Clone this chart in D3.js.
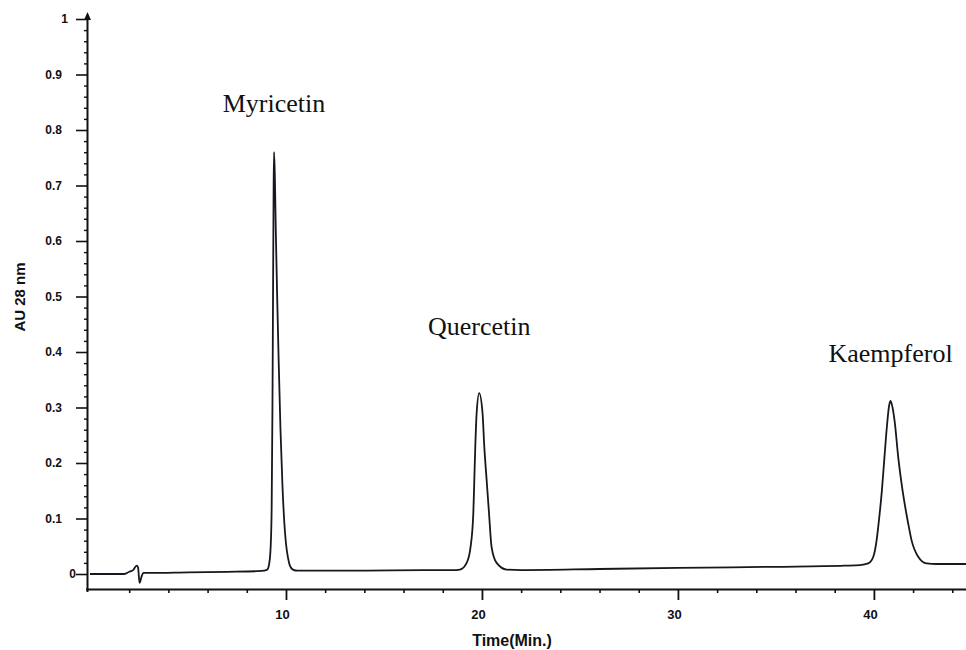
<!DOCTYPE html>
<html>
<head>
<meta charset="utf-8">
<script src="https://cdn.jsdelivr.net/npm/d3@7"></script>
<style>
  html, body { margin: 0; padding: 0; background: #fff; }
  svg { display: block; }
  .axis text { font-family: "Liberation Sans", Arial, sans-serif; font-weight: bold; fill: #111; }
  .axis path, .axis line { stroke: #111; }
</style>
</head>
<body>
<svg id="chart" width="966" height="650"></svg>
<script>
// Retention time (min) and absorbance (AU) of the chromatogram trace
const times = [
  0, 1.5, 1.75, 2.0, 2.2, 2.38, 2.45, 2.53, 2.62, 2.72, 3.0, 5.0, 7.0, 8.5, 8.9,
  9.05, 9.15, 9.22, 9.27, 9.31, 9.34, 9.37, 9.39,
  9.43, 9.48, 9.55, 9.63, 9.72, 9.82, 9.92, 10.0, 10.1, 10.2, 10.35, 10.6,
  14.0, 17.0, 18.5, 18.88, 19.22, 19.42, 19.56, 19.61, 19.66, 19.73, 19.86,
  20.03, 20.12, 20.24, 20.36, 20.49, 20.75, 21.26, 22.0, 26.0, 30.0, 35.0, 38.5,
  39.29, 39.71, 39.97, 40.14, 40.24, 40.41, 40.54, 40.68, 40.77, 40.85, 40.94,
  41.07, 41.24, 41.46, 41.75, 41.92, 42.26, 42.69, 43.2, 44.7
];
const absorbance = [
  0, 0, 0.0, 0.004, 0.007, 0.015, 0.012, -0.016, -0.006, 0.002, 0.002, 0.003, 0.004, 0.005, 0.006,
  0.008, 0.02, 0.05, 0.12, 0.3, 0.5, 0.7, 0.76,
  0.72, 0.62, 0.5, 0.38, 0.26, 0.16, 0.09, 0.055, 0.03, 0.015, 0.008, 0.006,
  0.006, 0.007, 0.007, 0.008, 0.02, 0.049, 0.11, 0.169, 0.229, 0.29, 0.326,
  0.29, 0.229, 0.169, 0.11, 0.049, 0.02, 0.008, 0.007, 0.009, 0.011, 0.013, 0.015,
  0.016, 0.019, 0.031, 0.061, 0.091, 0.151, 0.211, 0.272, 0.302, 0.312, 0.302,
  0.272, 0.211, 0.151, 0.091, 0.061, 0.031, 0.019, 0.018, 0.018
];

// Identified compounds and their retention times / peak heights
const compounds = ["Myricetin", "Quercetin", "Kaempferol"];
const peakTimes = [9.39, 19.86, 40.85];
const peakHeights = [0.76, 0.326, 0.312];

// Axis ticks
const xMajorTicks = [10, 20, 30, 40];
const xMinorTicks = [2, 4, 6, 8, 12, 14, 16, 18, 22, 24, 26, 28, 32, 34, 36, 38, 42, 44];
const yMajorTicks = [0, 0.1, 0.2, 0.3, 0.4, 0.5, 0.6, 0.7, 0.8, 0.9, 1];
const yMinorTicks = d3.range(0, 50).map(i => +(i * 0.02).toFixed(2)).filter(v => Math.round(v * 100) % 10 !== 0);

const xTitle = "Time(Min.)";
const yTitle = "AU 28 nm";

// Layout
const svg = d3.select("#chart");
const axisX0 = 87;       // y-axis line position
const axisY0 = 589;      // x-axis line position

const x = d3.scaleLinear().domain([0, 44.7]).range([90, 966]);
const y = d3.scaleLinear().domain([0, 1]).range([574, 19]);

// X axis: minor ticks
svg.append("g")
  .attr("class", "axis")
  .attr("transform", `translate(0,${axisY0})`)
  .call(d3.axisBottom(x).tickValues(xMinorTicks).tickSize(4).tickSizeOuter(0).tickFormat(""))
  .call(g => g.select(".domain").remove())
  .selectAll("line").attr("stroke-width", 1.6);

// X axis: major ticks and labels
const gx = svg.append("g")
  .attr("class", "axis")
  .attr("transform", `translate(0,${axisY0})`)
  .call(d3.axisBottom(x).tickValues(xMajorTicks).tickSize(11).tickSizeOuter(0).tickPadding(10).tickFormat(d3.format("d")));
gx.select(".domain").attr("d", `M${axisX0 - 1},0.5H966`).attr("stroke-width", 2);
gx.selectAll(".tick line").attr("stroke-width", 1.8);
gx.selectAll(".tick text").attr("font-size", 13).attr("dx", -4);

// Y axis: minor ticks
svg.append("g")
  .attr("class", "axis")
  .attr("transform", `translate(${axisX0},0)`)
  .call(d3.axisLeft(y).tickValues(yMinorTicks).tickSize(3).tickSizeOuter(0).tickFormat(""))
  .call(g => g.select(".domain").remove())
  .selectAll("line").attr("stroke-width", 1.4);

// Y axis: major ticks and labels
const gy = svg.append("g")
  .attr("class", "axis")
  .attr("transform", `translate(${axisX0},0)`)
  .call(d3.axisLeft(y).tickValues(yMajorTicks).tickSize(11).tickSizeOuter(0).tickPadding(14)
    .tickFormat(d => d === 0 ? "0" : d === 1 ? "1" : d3.format(".1f")(d)));
gy.select(".domain").attr("d", `M0.5,15V${axisY0 + 3}`).attr("stroke-width", 2);
gy.selectAll(".tick line").attr("stroke-width", 1.6);
gy.selectAll(".tick text").attr("font-size", 12)
  .attr("dx", d => d === 0 ? 14 : d === 1 ? 6 : 0);

// Arrowhead on the y axis
svg.append("path")
  .attr("d", `M${axisX0 + 0.5},12 l-3.5,8 h7 z`)
  .attr("fill", "#111");

// Axis titles
svg.append("text")
  .attr("x", 512).attr("y", 646)
  .attr("text-anchor", "middle")
  .attr("font-family", "Liberation Sans, Arial, sans-serif")
  .attr("font-weight", "bold").attr("font-size", 16)
  .attr("fill", "#111")
  .text(xTitle);

svg.append("text")
  .attr("transform", "translate(25,297) rotate(-90)")
  .attr("text-anchor", "middle")
  .attr("font-family", "Liberation Sans, Arial, sans-serif")
  .attr("font-weight", "bold").attr("font-size", 15)
  .attr("fill", "#111")
  .text(yTitle);

// Chromatogram trace
const trace = times.map((t, i) => ({ t, v: absorbance[i] }));
svg.append("path")
  .datum(trace)
  .attr("fill", "none")
  .attr("stroke", "#1a1620")
  .attr("stroke-width", 1.8)
  .attr("stroke-linejoin", "round")
  .attr("d", d3.line().x(d => x(d.t)).y(d => y(d.v)).curve(d3.curveMonotoneX));

// Compound labels above their peaks
const labelLift = [40, 58, 39];
svg.selectAll("text.peak")
  .data(compounds)
  .join("text")
  .attr("class", "peak")
  .attr("x", (d, i) => x(peakTimes[i]))
  .attr("y", (d, i) => y(peakHeights[i]) - labelLift[i])
  .attr("text-anchor", "middle")
  .attr("font-family", "Liberation Serif, 'Times New Roman', serif")
  .attr("font-size", 26)
  .attr("fill", "#111")
  .text(d => d);
</script>
</body>
</html>
